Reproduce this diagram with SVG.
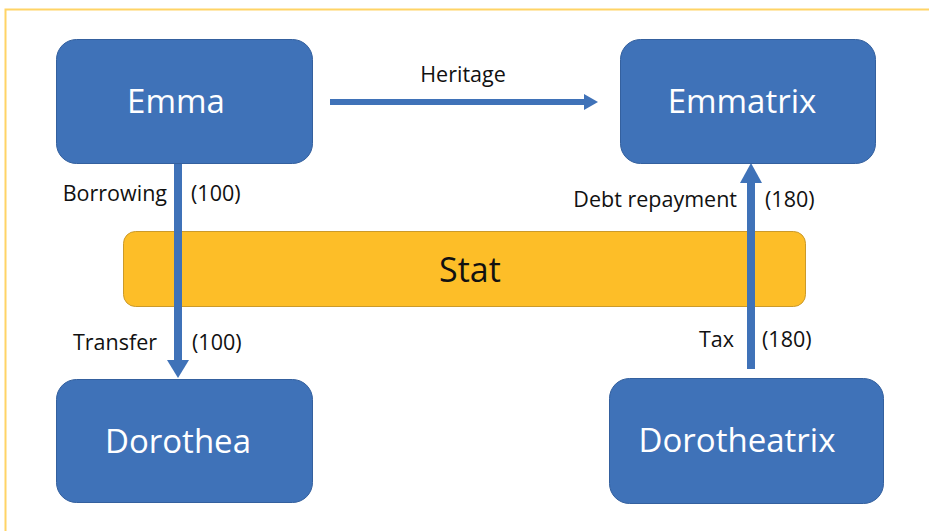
<svg xmlns="http://www.w3.org/2000/svg" width="929" height="531" viewBox="0 0 929 531">
<defs>
<style>
.node rect{fill:#3F72B8;stroke:#34609E;stroke-width:1}
.node text{fill:#FFFFFF;font-family:"Open Sans","Noto Sans",sans-serif;font-size:33px;text-anchor:middle}
.lbl{fill:#111111;font-family:"Open Sans","Noto Sans",sans-serif;font-size:21.5px}
.shaft{stroke:#3F72B8;fill:none}
.head{fill:#3F72B8}
</style>
</defs>
<rect x="0" y="0" width="929" height="531" fill="#FFFFFF"/>
<path d="M5.5 531 V9.5 H929" fill="none" stroke="#FFD466" stroke-width="2"/>
<g id="stat">
<rect x="123.5" y="231.5" width="682" height="75" rx="12" fill="#FDBE28" stroke="#CB9A2A" stroke-width="1"/>
<text x="470" y="282" font-family="'Open Sans','Noto Sans',sans-serif" font-size="34" fill="#111111" text-anchor="middle">Stat</text>
</g>
<g id="connectors">
<g id="c-heritage">
<line class="shaft" x1="330" y1="102" x2="586" y2="102" stroke-width="6"/>
<polygon class="head" points="584,94 598,102 584,110"/>
<text class="lbl" x="463" y="82" text-anchor="middle">Heritage</text>
</g>
<g id="c-emma-dorothea">
<line class="shaft" x1="178" y1="163" x2="178" y2="362" stroke-width="8"/>
<polygon class="head" points="167,360 189,360 178,378"/>
<text class="lbl" x="167" y="201" text-anchor="end">Borrowing</text>
<text class="lbl" x="191" y="201">(100)</text>
<text class="lbl" x="157" y="350" text-anchor="end">Transfer</text>
<text class="lbl" x="192" y="350">(100)</text>
</g>
<g id="c-dorotheatrix-emmatrix">
<line class="shaft" x1="751" y1="369" x2="751" y2="180" stroke-width="8"/>
<polygon class="head" points="740,183 762,183 751,163"/>
<text class="lbl" x="737" y="207" text-anchor="end">Debt repayment</text>
<text class="lbl" x="765" y="207">(180)</text>
<text class="lbl" x="734" y="347" text-anchor="end">Tax</text>
<text class="lbl" x="762" y="347">(180)</text>
</g>
</g>
<g id="emma" class="node">
<rect x="56.5" y="39.5" width="256" height="124" rx="20"/>
<text x="176" y="113">Emma</text>
</g>
<g id="emmatrix" class="node">
<rect x="620.5" y="39.5" width="255" height="124" rx="20"/>
<text x="742" y="113">Emmatrix</text>
</g>
<g id="dorothea" class="node">
<rect x="56.5" y="379.5" width="256" height="123" rx="20"/>
<text x="178" y="453">Dorothea</text>
</g>
<g id="dorotheatrix" class="node">
<rect x="609.5" y="378.5" width="274" height="125" rx="20"/>
<text x="737" y="452">Dorotheatrix</text>
</g>
</svg>
